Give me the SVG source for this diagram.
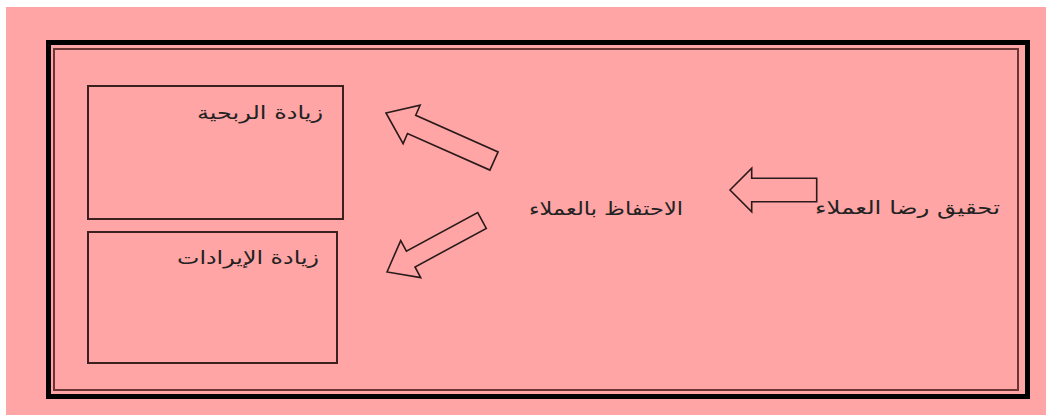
<svg xmlns="http://www.w3.org/2000/svg" width="1046" height="415" viewBox="0 0 1046 415">
<style>
.lbl{font-family:"DejaVu Sans",sans-serif;font-size:18px;fill:#222}
.box{fill:none;stroke:#3b2020;stroke-width:2}
.arrow{fill:none;stroke:#2a1a1a;stroke-width:1.6;stroke-linejoin:miter}
</style>
<rect x="0" y="0" width="1046" height="415" fill="#ffffff"/>
<rect x="6" y="7" width="1040" height="408" fill="#ffa5a5"/>
<g id="frame">
<rect x="48.5" y="42.5" width="979" height="354" fill="none" stroke="#000" stroke-width="5"/>
<rect x="54" y="49" width="964" height="341" fill="none" stroke="#6a3535" stroke-width="2"/>
</g>
<g id="node-profit">
<rect class="box" x="88" y="86" width="255" height="133"/>
<text class="lbl" x="197" y="119" textLength="126" lengthAdjust="spacingAndGlyphs">زيادة الربحية</text>
</g>
<g id="node-revenue">
<rect class="box" x="88" y="232" width="249" height="131"/>
<text class="lbl" x="177" y="264" textLength="142" lengthAdjust="spacingAndGlyphs">زيادة الإيرادات</text>
</g>
<g id="node-retention">
<text class="lbl" x="529" y="215" textLength="154" lengthAdjust="spacingAndGlyphs">الاحتفاظ بالعملاء</text>
</g>
<g id="node-satisfaction">
<text class="lbl" x="815" y="214" textLength="185" lengthAdjust="spacingAndGlyphs">تحقيق رضا العملاء</text>
</g>
<g id="connectors">
<polygon class="arrow" points="386,113 420.1,105.2 415.7,115.3 498.1,151.9 489.9,170.1 407.5,133.5 403.1,143.6"/>
<polygon class="arrow" points="387,272 400.7,240.6 406.4,251.2 477.7,212.6 486.3,228.4 415,267 420.7,277.6"/>
<polygon class="arrow" points="730,190 751.7,168.3 751.7,178.3 816.7,178.3 816.7,201.7 751.7,201.7 751.7,211.7"/>
</g>
</svg>
